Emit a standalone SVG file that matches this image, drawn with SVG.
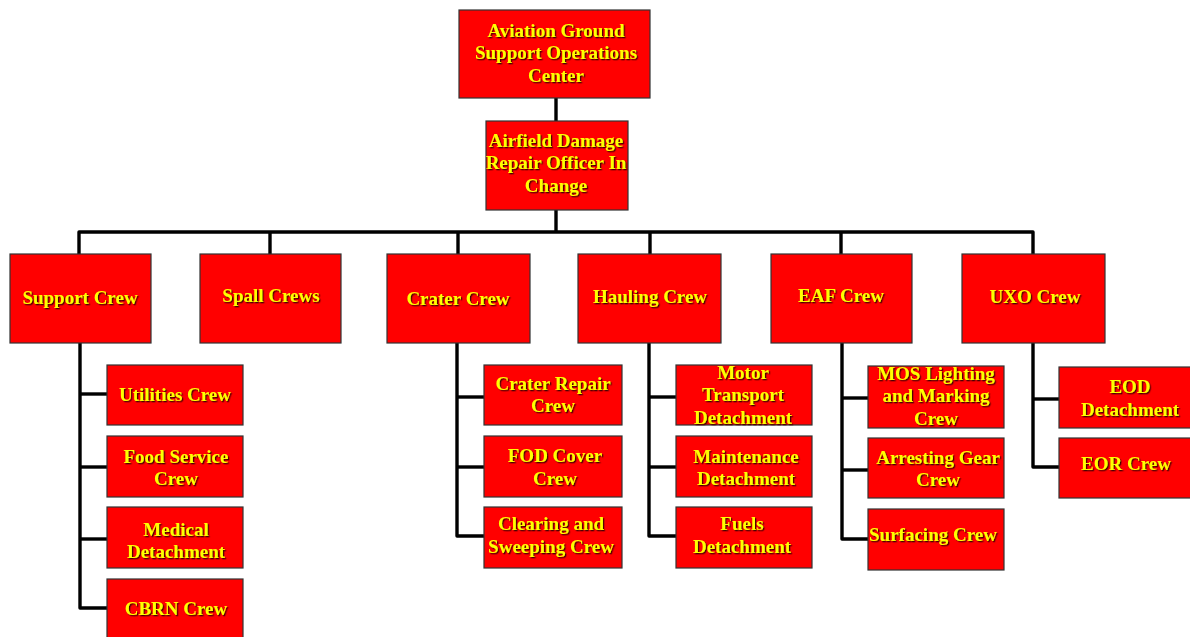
<svg xmlns="http://www.w3.org/2000/svg" width="1190" height="637" viewBox="0 0 1190 637">
  <style>
    .box { fill: #ff0000; stroke: #333; stroke-width: 1.2; }
    .lbl { font-family: "Liberation Serif", "Times New Roman", serif; font-weight: bold; font-size: 19px; fill: #ffff00; text-anchor: middle; filter: url(#shadow); }
    .wire { fill: none; stroke: #000; stroke-width: 3.4; stroke-linejoin: round; }
  </style>
  <defs>
    <filter id="shadow" x="-10%" y="-20%" width="120%" height="150%">
      <feDropShadow dx="1.3" dy="1.3" stdDeviation="0.6" flood-color="#4a0000" flood-opacity="1"/>
    </filter>
  </defs>
  <rect width="1190" height="637" fill="#fff"/>

  <!-- connectors -->
  <g id="connectors" class="wire">
    <path d="M556 98 V121"/>
    <path d="M556 210 V232"/>
    <path d="M79 254 V232 H1033 V254"/>
    <path d="M270 232 V254"/>
    <path d="M458 232 V254"/>
    <path d="M650 232 V254"/>
    <path d="M841 232 V254"/>
    <!-- Support Crew branch -->
    <path d="M80 343 V608 H107"/>
    <path d="M80 394 H107"/>
    <path d="M80 467 H107"/>
    <path d="M80 539 H107"/>
    <!-- Crater Crew branch -->
    <path d="M457 343 V536 H484"/>
    <path d="M457 397 H484"/>
    <path d="M457 467 H484"/>
    <!-- Hauling Crew branch -->
    <path d="M649 343 V536 H676"/>
    <path d="M649 397 H676"/>
    <path d="M649 467 H676"/>
    <!-- EAF Crew branch -->
    <path d="M842 343 V539 H868"/>
    <path d="M842 398 H868"/>
    <path d="M842 470 H868"/>
    <!-- UXO Crew branch -->
    <path d="M1033 343 V467 H1059"/>
    <path d="M1033 399 H1059"/>
  </g>

  <!-- top levels -->
  <g id="agsoc">
    <rect class="box" x="459" y="10" width="191" height="88"/>
    <text class="lbl"><tspan x="556" y="37">Aviation Ground</tspan><tspan x="556" y="59">Support Operations</tspan><tspan x="556" y="82">Center</tspan></text>
  </g>
  <g id="adr-oic">
    <rect class="box" x="486" y="121" width="142" height="89"/>
    <text class="lbl"><tspan x="556" y="147">Airfield Damage</tspan><tspan x="556" y="169">Repair Officer In</tspan><tspan x="556" y="192">Change</tspan></text>
  </g>

  <!-- crews -->
  <g id="support-crew">
    <rect class="box" x="10" y="254" width="141" height="89"/>
    <text class="lbl" x="80" y="304">Support Crew</text>
  </g>
  <g id="spall-crews">
    <rect class="box" x="200" y="254" width="141" height="89"/>
    <text class="lbl" x="271" y="302">Spall Crews</text>
  </g>
  <g id="crater-crew">
    <rect class="box" x="387" y="254" width="143" height="89"/>
    <text class="lbl" x="458" y="305">Crater Crew</text>
  </g>
  <g id="hauling-crew">
    <rect class="box" x="578" y="254" width="143" height="89"/>
    <text class="lbl" x="650" y="303">Hauling Crew</text>
  </g>
  <g id="eaf-crew">
    <rect class="box" x="771" y="254" width="141" height="89"/>
    <text class="lbl" x="841" y="302">EAF Crew</text>
  </g>
  <g id="uxo-crew">
    <rect class="box" x="962" y="254" width="143" height="89"/>
    <text class="lbl" x="1035" y="303">UXO Crew</text>
  </g>

  <!-- Support Crew sections -->
  <g id="utilities-crew">
    <rect class="box" x="107" y="365" width="136" height="60"/>
    <text class="lbl" x="175" y="401">Utilities Crew</text>
  </g>
  <g id="food-service-crew">
    <rect class="box" x="107" y="436" width="136" height="61"/>
    <text class="lbl"><tspan x="176" y="463">Food Service</tspan><tspan x="176" y="485">Crew</tspan></text>
  </g>
  <g id="medical-detachment">
    <rect class="box" x="107" y="507" width="136" height="61"/>
    <text class="lbl"><tspan x="176" y="536">Medical</tspan><tspan x="176" y="558">Detachment</tspan></text>
  </g>
  <g id="cbrn-crew">
    <rect class="box" x="107" y="579" width="136" height="64"/>
    <text class="lbl" x="176" y="615">CBRN Crew</text>
  </g>

  <!-- Crater Crew sections -->
  <g id="crater-repair-crew">
    <rect class="box" x="484" y="365" width="138" height="60"/>
    <text class="lbl"><tspan x="553" y="390">Crater Repair</tspan><tspan x="553" y="412">Crew</tspan></text>
  </g>
  <g id="fod-cover-crew">
    <rect class="box" x="484" y="436" width="138" height="61"/>
    <text class="lbl"><tspan x="555" y="462">FOD Cover</tspan><tspan x="555" y="485">Crew</tspan></text>
  </g>
  <g id="clearing-sweeping-crew">
    <rect class="box" x="484" y="507" width="138" height="61"/>
    <text class="lbl"><tspan x="551" y="530">Clearing and</tspan><tspan x="551" y="553">Sweeping Crew</tspan></text>
  </g>

  <!-- Hauling Crew sections -->
  <g id="motor-transport-detachment">
    <rect class="box" x="676" y="365" width="136" height="60"/>
    <text class="lbl"><tspan x="743" y="379">Motor</tspan><tspan x="743" y="401">Transport</tspan><tspan x="743" y="424">Detachment</tspan></text>
  </g>
  <g id="maintenance-detachment">
    <rect class="box" x="676" y="436" width="136" height="61"/>
    <text class="lbl"><tspan x="746" y="463">Maintenance</tspan><tspan x="746" y="485">Detachment</tspan></text>
  </g>
  <g id="fuels-detachment">
    <rect class="box" x="676" y="507" width="136" height="61"/>
    <text class="lbl"><tspan x="742" y="530">Fuels</tspan><tspan x="742" y="553">Detachment</tspan></text>
  </g>

  <!-- EAF Crew sections -->
  <g id="mos-lighting-marking-crew">
    <rect class="box" x="868" y="366" width="136" height="62"/>
    <text class="lbl"><tspan x="936" y="380">MOS Lighting</tspan><tspan x="936" y="402">and Marking</tspan><tspan x="936" y="425">Crew</tspan></text>
  </g>
  <g id="arresting-gear-crew">
    <rect class="box" x="868" y="438" width="136" height="60"/>
    <text class="lbl"><tspan x="938" y="464">Arresting Gear</tspan><tspan x="938" y="486">Crew</tspan></text>
  </g>
  <g id="surfacing-crew">
    <rect class="box" x="868" y="509" width="136" height="61"/>
    <text class="lbl" x="933" y="541">Surfacing Crew</text>
  </g>

  <!-- UXO Crew sections -->
  <g id="eod-detachment">
    <rect class="box" x="1059" y="367" width="142" height="61"/>
    <text class="lbl"><tspan x="1130" y="393">EOD</tspan><tspan x="1130" y="416">Detachment</tspan></text>
  </g>
  <g id="eor-crew">
    <rect class="box" x="1059" y="438" width="142" height="60"/>
    <text class="lbl" x="1126" y="470">EOR Crew</text>
  </g>
</svg>
